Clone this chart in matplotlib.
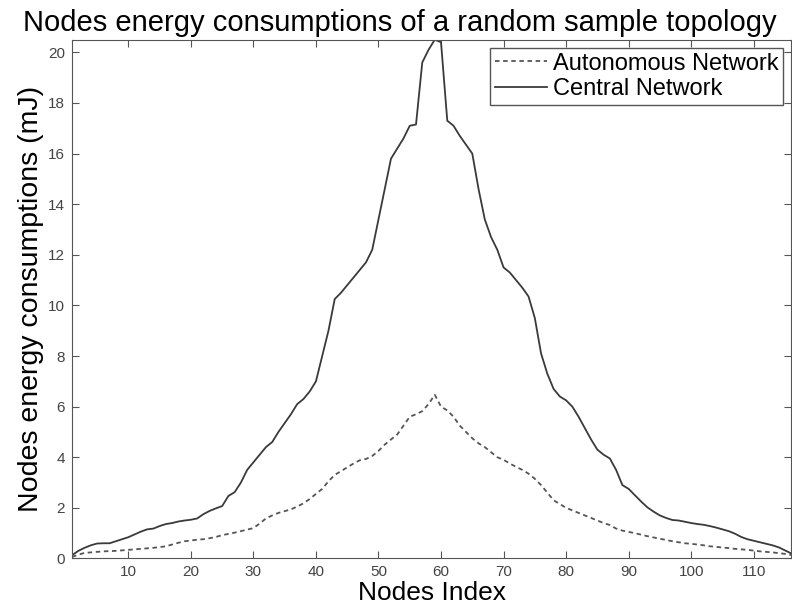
"""
Nodes energy consumptions: autonomous vs central network.
"""
import numpy as np
from matplotlib import pyplot as plt

plt.rcParams.update({
    'font.family': ['Liberation Sans', 'DejaVu Sans'],
    'xtick.direction': 'in',
    'ytick.direction': 'in',
    'xtick.top': True,
    'ytick.right': True,
})

node_index = np.arange(1, 117)

autonomous = [
    0.06, 0.15, 0.22, 0.24, 0.26, 0.28, 0.29, 0.30, 0.32, 0.34,
    0.36, 0.38, 0.40, 0.42, 0.45, 0.48, 0.55, 0.62, 0.68, 0.71,
    0.74, 0.76, 0.80, 0.85, 0.92, 0.97, 1.02, 1.08, 1.14, 1.20,
    1.38, 1.58, 1.70, 1.80, 1.87, 1.94, 2.05, 2.18, 2.35, 2.55,
    2.75, 3.05, 3.30, 3.45, 3.60, 3.75, 3.88, 3.93, 4.05, 4.25,
    4.50, 4.70, 4.90, 5.25, 5.60, 5.70, 5.82, 6.10, 6.47, 6.00,
    5.85, 5.60, 5.25, 5.00, 4.75, 4.55, 4.40, 4.20, 4.00, 3.90,
    3.75, 3.62, 3.50, 3.35, 3.15, 2.90, 2.60, 2.30, 2.15, 2.00,
    1.90, 1.80, 1.70, 1.60, 1.50, 1.40, 1.32, 1.18, 1.10, 1.05,
    1.00, 0.94, 0.88, 0.83, 0.78, 0.73, 0.68, 0.64, 0.60, 0.58,
    0.55, 0.52, 0.48, 0.46, 0.43, 0.41, 0.38, 0.36, 0.34, 0.31,
    0.28, 0.26, 0.24, 0.21, 0.18, 0.14,
]

central = [
    0.13, 0.30, 0.42, 0.52, 0.59, 0.60, 0.60, 0.68, 0.76, 0.84,
    0.95, 1.06, 1.15, 1.18, 1.28, 1.36, 1.40, 1.46, 1.50, 1.53,
    1.58, 1.75, 1.88, 1.98, 2.07, 2.47, 2.62, 3.00, 3.50, 3.80,
    4.10, 4.40, 4.60, 5.00, 5.35, 5.70, 6.10, 6.30, 6.60, 7.00,
    8.00, 9.00, 10.25, 10.50, 10.80, 11.10, 11.40, 11.70, 12.20, 13.40,
    14.60, 15.80, 16.20, 16.60, 17.10, 17.15, 19.60, 20.10, 20.50, 20.40,
    17.30, 17.10, 16.70, 16.35, 16.00, 14.60, 13.40, 12.70, 12.20, 11.50,
    11.30, 11.00, 10.70, 10.35, 9.50, 8.10, 7.30, 6.70, 6.40, 6.25,
    6.00, 5.60, 5.15, 4.70, 4.30, 4.10, 3.95, 3.50, 2.90, 2.75,
    2.50, 2.25, 2.02, 1.85, 1.70, 1.60, 1.52, 1.50, 1.45, 1.40,
    1.36, 1.33, 1.28, 1.22, 1.15, 1.08, 0.98, 0.85, 0.76, 0.70,
    0.64, 0.58, 0.52, 0.44, 0.32, 0.20,
]

x_ticks = list(range(10, 111, 10))
y_ticks = list(range(0, 21, 2))

fig = plt.figure(figsize=(7.92, 6.11), dpi=100)
ax = fig.add_axes([0.091, 0.086, 0.908, 0.849])

ax.plot(node_index, autonomous, linestyle=(0, (2.5, 2)), color='#555555',
        linewidth=1.3, label='Autonomous Network')
ax.plot(node_index, central, linestyle='-', color='#3a3a3a',
        linewidth=1.3, label='Central Network')

ax.set_xlim(1, 116)
ax.set_ylim(0, 20.5)
ax.set_xticks(x_ticks)
ax.set_yticks(y_ticks)
ax.tick_params(labelsize=11, labelcolor='#444444', length=5, color='#555555', pad=5)
for spine in ax.spines.values():
    spine.set_color('#555555')

ax.set_xlabel('Nodes Index', fontsize=19, labelpad=1)
ax.set_ylabel('Nodes energy consumptions (mJ)', fontsize=20.5, labelpad=3)
# title centred on the figure, not the axes, like the original
fig.text(0.505, 0.962, 'Nodes energy consumptions of a random sample topology',
         fontsize=21, ha='center', va='center')

leg = ax.legend(loc='upper right', fontsize=17, fancybox=False, framealpha=1,
                edgecolor='#555555', borderaxespad=0.35, handlelength=2.2,
                handletextpad=0.25, borderpad=0.2, labelspacing=0.15)
leg.get_frame().set_linewidth(1.0)

fig.savefig('out.png', dpi=100)
